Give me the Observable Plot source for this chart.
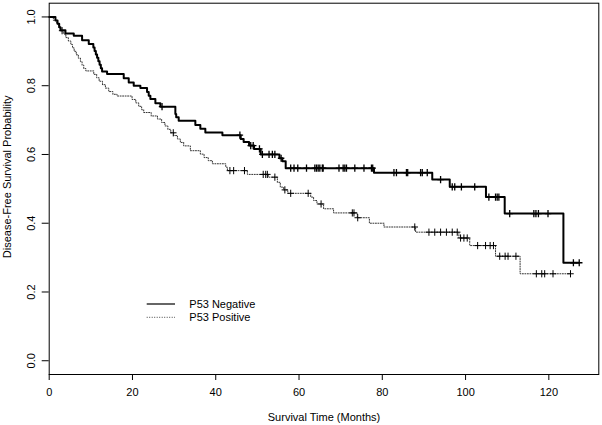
<!DOCTYPE html>
<html>
<head>
<meta charset="utf-8">
<script src="https://cdn.jsdelivr.net/npm/d3@7"></script>
<script src="https://cdn.jsdelivr.net/npm/@observablehq/plot@0.6"></script>
<style>
  html, body { margin: 0; padding: 0; background: #fff; }
  #wrap { position: relative; width: 602px; height: 425px; font-family: "Liberation Sans", Arial, Helvetica, sans-serif; }
  #legend { position: absolute; left: 0; top: 0; }
</style>
</head>
<body>
<div id="wrap"></div>
<script>
// ---- Data ----
const xTicks = [0, 20, 40, 60, 80, 100, 120];
const yTicks = [0, 0.2, 0.4, 0.6, 0.8, 1.0];
const seriesNames = ["P53 Negative", "P53 Positive"];

// P53 Negative: event times (months) and survival after each step
const negTimes = [0, 1.5, 2.0, 2.4, 2.7, 3.9, 5.9, 7.9, 9.5, 10.6, 10.9, 11.2, 11.5, 11.8, 12.1, 12.4, 12.7, 13.9, 17.9, 19.1, 20.3, 21.9, 23.5, 23.9, 24.3, 25.5, 26.7, 30.3, 30.5, 31.1, 35.1, 36.3, 37.5, 41.6, 46.0, 46.7, 48.0, 49.2, 50.8, 55.3, 56.0, 56.8, 78.0, 92.0, 96.2, 104.9, 109.4, 123.5];
const negSurv  = [1, 0.99, 0.98, 0.97, 0.961, 0.952, 0.945, 0.932, 0.921, 0.911, 0.901, 0.891, 0.881, 0.871, 0.861, 0.851, 0.841, 0.834, 0.822, 0.809, 0.800, 0.793, 0.782, 0.771, 0.761, 0.749, 0.739, 0.718, 0.708, 0.698, 0.686, 0.675, 0.664, 0.656, 0.645, 0.636, 0.626, 0.616, 0.600, 0.589, 0.580, 0.560, 0.547, 0.527, 0.506, 0.476, 0.428, 0.285];
const negCensor = [27.1, 45.8, 48.4, 49.0, 50.5, 51.2, 52.8, 53.6, 54.2, 55.7, 58.0, 58.8, 59.7, 61.8, 63.8, 64.2, 64.6, 65.0, 65.6, 65.8, 69.6, 70.6, 71.0, 71.4, 73.4, 75.6, 77.4, 77.7, 82.8, 83.4, 85.8, 86.1, 89.2, 89.6, 90.8, 94.0, 96.8, 97.4, 99.0, 102.2, 105.6, 107.2, 107.6, 108.0, 110.6, 116.4, 116.9, 117.5, 119.8, 125.9, 127.3];

// P53 Positive
const posTimes = [0, 1.0, 1.8, 2.3, 2.8, 3.5, 4.0, 4.6, 5.2, 5.6, 6.0, 6.5, 7.0, 7.5, 7.9, 8.3, 8.8, 10.7, 11.4, 12.0, 12.8, 13.5, 14.3, 15.3, 16.3, 19.9, 20.8, 21.5, 22.2, 22.7, 24.5, 26.0, 27.0, 27.8, 28.5, 29.2, 29.9, 30.8, 31.5, 32.3, 33.9, 36.3, 37.2, 38.2, 39.2, 42.4, 42.8, 47.6, 52.6, 54.8, 55.5, 56.3, 57.3, 62.8, 63.5, 64.3, 65.9, 68.3, 74.0, 76.9, 80.4, 88.0, 98.4, 101.0, 107.2, 113.1];
const posSurv  = [1, 0.99, 0.98, 0.97, 0.96, 0.95, 0.94, 0.93, 0.92, 0.91, 0.90, 0.89, 0.88, 0.87, 0.86, 0.85, 0.843, 0.833, 0.823, 0.813, 0.803, 0.793, 0.783, 0.775, 0.770, 0.760, 0.750, 0.740, 0.730, 0.722, 0.712, 0.703, 0.693, 0.683, 0.673, 0.663, 0.655, 0.645, 0.635, 0.625, 0.611, 0.601, 0.591, 0.582, 0.573, 0.563, 0.553, 0.542, 0.534, 0.519, 0.505, 0.497, 0.487, 0.476, 0.466, 0.456, 0.442, 0.430, 0.416, 0.400, 0.389, 0.374, 0.357, 0.335, 0.304, 0.253];
const posCensor = [3.1, 29.8, 43.4, 44.3, 46.9, 51.4, 52.0, 52.4, 54.2, 56.6, 58.0, 62.2, 65.3, 72.8, 73.2, 74.1, 87.8, 91.2, 92.6, 94.0, 95.4, 96.8, 98.0, 98.8, 99.6, 100.4, 102.9, 104.8, 105.9, 106.7, 108.2, 109.5, 110.2, 112.1, 117.0, 118.3, 119.0, 121.0, 125.2];

// ---- Build tables ----
function stepTable(times, surv, censor, group) {
  const rows = times.map((t, i) => ({t, s: surv[i], group}));
  const end = Math.max(d3.max(censor), d3.max(times));
  rows.push({t: end, s: surv[surv.length - 1], group});
  return rows;
}
function survAt(times, surv, t) {
  let s = surv[0];
  for (let i = 0; i < times.length; i++) if (times[i] <= t) s = surv[i];
  return s;
}
const negLine = stepTable(negTimes, negSurv, negCensor, seriesNames[0]);
const posLine = stepTable(posTimes, posSurv, posCensor, seriesNames[1]);
const negMarks = negCensor.map(t => ({t, s: survAt(negTimes, negSurv, t)}));
const posMarks = posCensor.map(t => ({t, s: survAt(posTimes, posSurv, t)}));

// custom "+" symbol drawn with strokes
const plusSymbol = {
  draw(context, size) {
    const r = Math.sqrt(size / Math.PI);
    context.moveTo(-r * 0.9, 0); context.lineTo(r * 0.9, 0);
    context.moveTo(0, -r); context.lineTo(0, r);
  }
};

const font = "Liberation Sans, Arial, Helvetica, sans-serif";
const fs = 11;

const chart = Plot.plot({
  width: 602,
  height: 425,
  marginLeft: 48.7,
  marginRight: 3.7,
  marginTop: 2.7,
  marginBottom: 51,
  style: {fontFamily: font, fontSize: fs + "px", color: "black", background: "white"},
  x: {domain: [0, 132]},
  y: {domain: [-0.04, 1.04]},
  marks: [
    Plot.frame({stroke: "black", strokeWidth: 1}),
    Plot.axisX(xTicks, {tickSize: 6, tickPadding: 8, label: null, fontSize: fs, tickFormat: d => String(d)}),
    Plot.axisY(yTicks, {tickSize: 7, label: null, tickFormat: () => ""}),
    Plot.text(yTicks, {y: d => d, text: d => d.toFixed(1), frameAnchor: "left", textAnchor: "middle", lineAnchor: "middle", dx: -18, rotate: -90, fontSize: fs, fill: "black"}),
    Plot.text(["Disease-Free Survival Probability"], {text: d => d, frameAnchor: "left", textAnchor: "middle", lineAnchor: "middle", dx: -41.4, dy: -12, rotate: -90, fontSize: fs, fill: "black"}),
    Plot.text(["Survival Time (Months)"], {text: d => d, frameAnchor: "bottom", lineAnchor: "middle", dy: 42.7, fontSize: fs, fill: "black"}),
    Plot.line(posLine, {x: "t", y: "s", curve: "step-after", stroke: "#333", strokeWidth: 1, strokeDasharray: "1,1.5"}),
    Plot.line(negLine, {x: "t", y: "s", curve: "step-after", stroke: "black", strokeWidth: 2}),
    Plot.dot(posMarks, {x: "t", y: "s", symbol: plusSymbol, r: 3.6, stroke: "black", strokeWidth: 1, fill: "none"}),
    Plot.dot(negMarks, {x: "t", y: "s", symbol: plusSymbol, r: 3.6, stroke: "black", strokeWidth: 1.3, fill: "none"})
  ]
});

const wrap = document.getElementById("wrap");
wrap.appendChild(chart);

// Legend (overlay, R-style)
const ns = "http://www.w3.org/2000/svg";
const leg = document.createElementNS(ns, "svg");
leg.setAttribute("id", "legend");
leg.setAttribute("width", 602);
leg.setAttribute("height", 425);
const legendStyles = [
  {stroke: "black", width: 1.2, dash: null},
  {stroke: "#444", width: 1, dash: "1,1.5"}
];
seriesNames.forEach((name, i) => {
  const y = 304 + i * 13.3;
  const ln = document.createElementNS(ns, "line");
  ln.setAttribute("x1", 146.7); ln.setAttribute("x2", 175);
  ln.setAttribute("y1", y); ln.setAttribute("y2", y);
  ln.setAttribute("stroke", legendStyles[i].stroke);
  ln.setAttribute("stroke-width", legendStyles[i].width);
  if (legendStyles[i].dash) ln.setAttribute("stroke-dasharray", legendStyles[i].dash);
  leg.appendChild(ln);
  const tx = document.createElementNS(ns, "text");
  tx.setAttribute("x", 189.3); tx.setAttribute("y", y);
  tx.setAttribute("dy", "0.35em");
  tx.setAttribute("font-family", font);
  tx.setAttribute("font-size", fs + "px");
  tx.setAttribute("fill", "black");
  tx.textContent = name;
  leg.appendChild(tx);
});
wrap.appendChild(leg);
</script>
</body>
</html>
